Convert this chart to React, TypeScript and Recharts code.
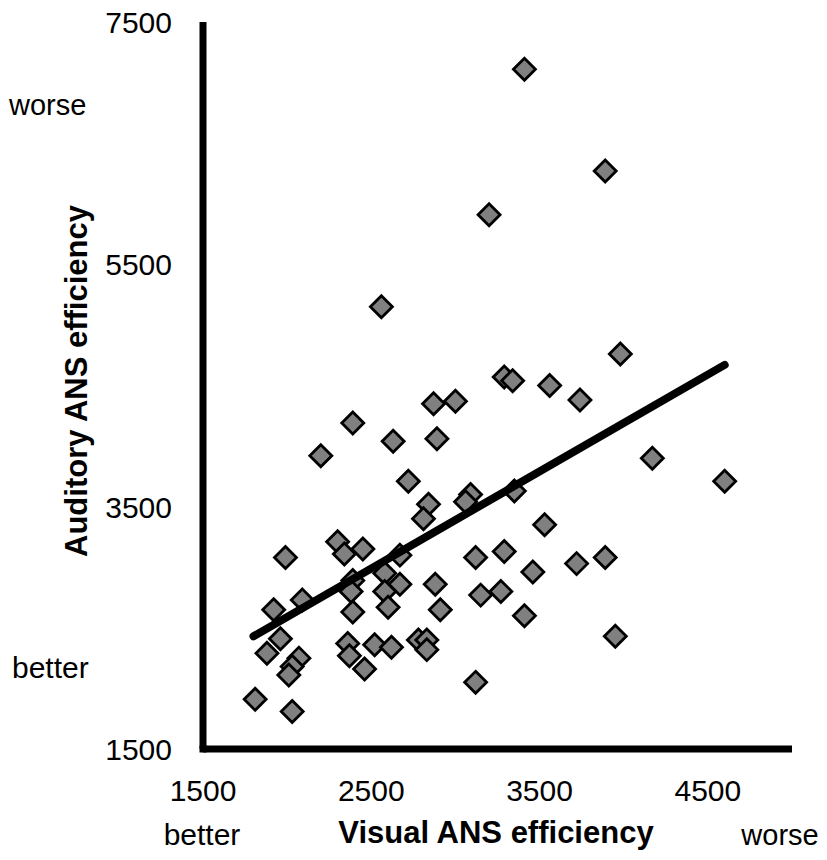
import { ScatterChart, Scatter, XAxis, YAxis } from 'recharts'

// visual vs auditory ANS efficiency, one entry per participant
const visualEfficiency = [
  3410, 3890, 3200, 2560, 3980, 3290, 3340, 3560, 3740, 2870, 3000, 2390, 2630,
  2890, 2200, 4170, 2720, 4600, 3350, 3090, 3060, 2840, 2810, 3530, 2300, 2340,
  2450, 1990, 2670, 2580, 2390, 2670, 2580, 2600, 2390, 2880, 2910, 1920, 2090,
  3120, 3290, 3460, 3720, 3890, 3150, 3270, 3410, 3950, 3120, 1960, 1880, 2070,
  2030, 2010, 2360, 2370, 2460, 2520, 2620, 2780, 2830, 2830, 1810, 2030, 2380,
]
const auditoryEfficiency = [
  7110, 6270, 5910, 5150, 4760, 4570, 4540, 4500, 4380, 4350, 4370, 4190, 4040,
  4060, 3920, 3900, 3710, 3710, 3630, 3600, 3540, 3520, 3400, 3350, 3210, 3110,
  3150, 3080, 3100, 2950, 2890, 2860, 2800, 2670, 2630, 2860, 2650, 2650, 2730,
  3080, 3130, 2960, 3030, 3080, 2770, 2800, 2600, 2430, 2050, 2410, 2290, 2250,
  2180, 2110, 2370, 2270, 2160, 2360, 2340, 2400, 2400, 2320, 1910, 1810, 2800,
]

// fitted regression line endpoints
const trendVisual = [1800, 4600]
const trendAuditory = [2430, 4670]

const xTicks = [1500, 2500, 3500, 4500]
const yTicks = [1500, 3500, 5500, 7500]

const points = visualEfficiency.map((x, i) => ({ x, y: auditoryEfficiency[i] }))
const trend = trendVisual.map((x, i) => ({ x, y: trendAuditory[i] }))

const FONT = '"Liberation Sans", Arial, Helvetica, sans-serif'
const WIDTH = 827
const HEIGHT = 860
const PLOT_TOP = 22
const PLOT_BOTTOM = 749
const PLOT_LEFT = 203
const PLOT_RIGHT = 792

function Diamond(props: any) {
  const { cx, cy } = props
  const r = 11
  return (
    <path
      d={`M${cx},${cy - r}L${cx + r},${cy}L${cx},${cy + r}L${cx - r},${cy}Z`}
      fill="#808080"
      stroke="#000"
      strokeWidth={2.8}
    />
  )
}

function XTick(props: any) {
  return (
    <text x={props.x} y={PLOT_BOTTOM + 52} textAnchor="middle" fontSize={30} fontFamily={FONT} fill="#000">
      {props.payload.value}
    </text>
  )
}

function YTick(props: any) {
  return (
    <text x={172} y={props.y} dy={11} textAnchor="end" fontSize={30} fontFamily={FONT} fill="#000">
      {props.payload.value}
    </text>
  )
}

export default function App() {
  return (
    <div style={{ position: 'absolute', left: 0, top: 0, width: WIDTH, height: HEIGHT, background: '#fff' }}>
      <ScatterChart
        width={WIDTH}
        height={HEIGHT}
        margin={{ top: PLOT_TOP, right: WIDTH - PLOT_RIGHT, bottom: 11, left: 0 }}
      >
        <XAxis
          type="number"
          dataKey="x"
          domain={[1500, 5000]}
          ticks={xTicks}
          tickLine={false}
          tick={XTick}
          height={HEIGHT - 11 - PLOT_BOTTOM}
          axisLine={{ stroke: '#000', strokeWidth: 7 }}
          allowDataOverflow
        />
        <YAxis
          type="number"
          dataKey="y"
          domain={[1500, 7500]}
          ticks={yTicks}
          tickLine={false}
          tick={YTick}
          width={PLOT_LEFT}
          axisLine={{ stroke: '#000', strokeWidth: 7 }}
          allowDataOverflow
        />
        <Scatter data={points} shape={Diamond} isAnimationActive={false} />
        <Scatter
          data={trend}
          shape={() => <g />}
          line={{ stroke: '#000', strokeWidth: 8, strokeLinecap: 'round' }}
          isAnimationActive={false}
        />
      </ScatterChart>
      <svg
        width={WIDTH}
        height={HEIGHT}
        style={{ position: 'absolute', left: 0, top: 0, pointerEvents: 'none' }}
        fontFamily={FONT}
      >
        {/* bottom-left corner fill where the two thick axis lines meet */}
        <rect x={PLOT_LEFT - 3.5} y={PLOT_BOTTOM - 3.5} width={7} height={7} fill="#000" />
        <text x={9} y={115} fontSize={29}>worse</text>
        <text x={12} y={678} fontSize={30}>better</text>
        <text x={202} y={845} fontSize={30} textAnchor="middle">better</text>
        <text x={780} y={845} fontSize={29} textAnchor="middle">worse</text>
        <text x={496} y={843} fontSize={31} fontWeight="bold" textAnchor="middle">
          Visual ANS efficiency
        </text>
        <text
          x={87}
          y={381}
          fontSize={31}
          fontWeight="bold"
          textAnchor="middle"
          transform="rotate(-90, 87, 381)"
        >
          Auditory ANS efficiency
        </text>
      </svg>
    </div>
  )
}
